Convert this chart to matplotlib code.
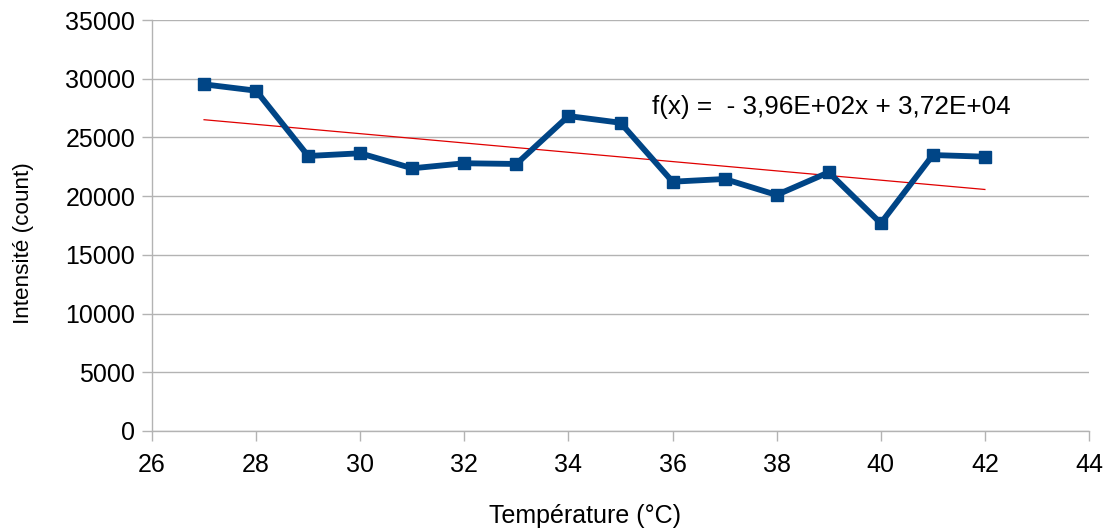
import matplotlib
matplotlib.use("Agg")
import matplotlib.pyplot as plt
import numpy as np

# données mesurées
temperature = [27, 28, 29, 30, 31, 32, 33, 34, 35, 36, 37, 38, 39, 40, 41, 42]
intensite = [29520, 28980, 23420, 23650, 22370, 22800, 22740, 26820,
             26250, 21230, 21460, 20100, 22030, 17690, 23500, 23360]

# régression linéaire affichée
pente = -3.96e2
ordonnee = 3.72e4
equation = "f(x) =  - 3,96E+02x + 3,72E+04"

plt.rcParams['font.family'] = ['Liberation Sans', 'DejaVu Sans']

fig = plt.figure(figsize=(11.09, 5.29), dpi=100)
ax = fig.add_axes([152 / 1109, 1 - 431 / 529, 937 / 1109, 411 / 529])

grid_col = '#b3b3b3'

x = np.array(temperature)
ax.plot(x, pente * x + ordonnee, color='#e00000', linewidth=0.9, zorder=2)
ax.plot(temperature, intensite, color='#004586', linewidth=4.2,
        marker='s', markersize=9, zorder=3)

ax.text(35.6, 27600, equation, fontsize=18.8, va='center', ha='left')

ax.set_xlim(26, 44)
ax.set_ylim(0, 35000)
ax.set_xticks(range(26, 45, 2))
ax.set_yticks(range(0, 35001, 5000))

ax.grid(axis='y', color=grid_col, linewidth=1)
ax.set_axisbelow(True)
for s in ['top', 'right']:
    ax.spines[s].set_visible(False)
for s in ['left', 'bottom']:
    ax.spines[s].set_color(grid_col)
    ax.spines[s].set_linewidth(1)

ax.tick_params(axis='both', colors=grid_col, labelcolor='black',
               labelsize=18, length=7, width=1, direction='out')
ax.tick_params(axis='x', pad=9)
ax.tick_params(axis='y', pad=5)

ax.set_xlabel("Température (°C)", fontsize=18)
ax.set_ylabel("Intensité (count)", fontsize=16.2)
ax.xaxis.set_label_coords((585 - 152) / 937, -73 / 411)
ax.yaxis.set_label_coords(-118 / 937, (431 - 243) / 411)

fig.savefig("out.png", dpi=100)
